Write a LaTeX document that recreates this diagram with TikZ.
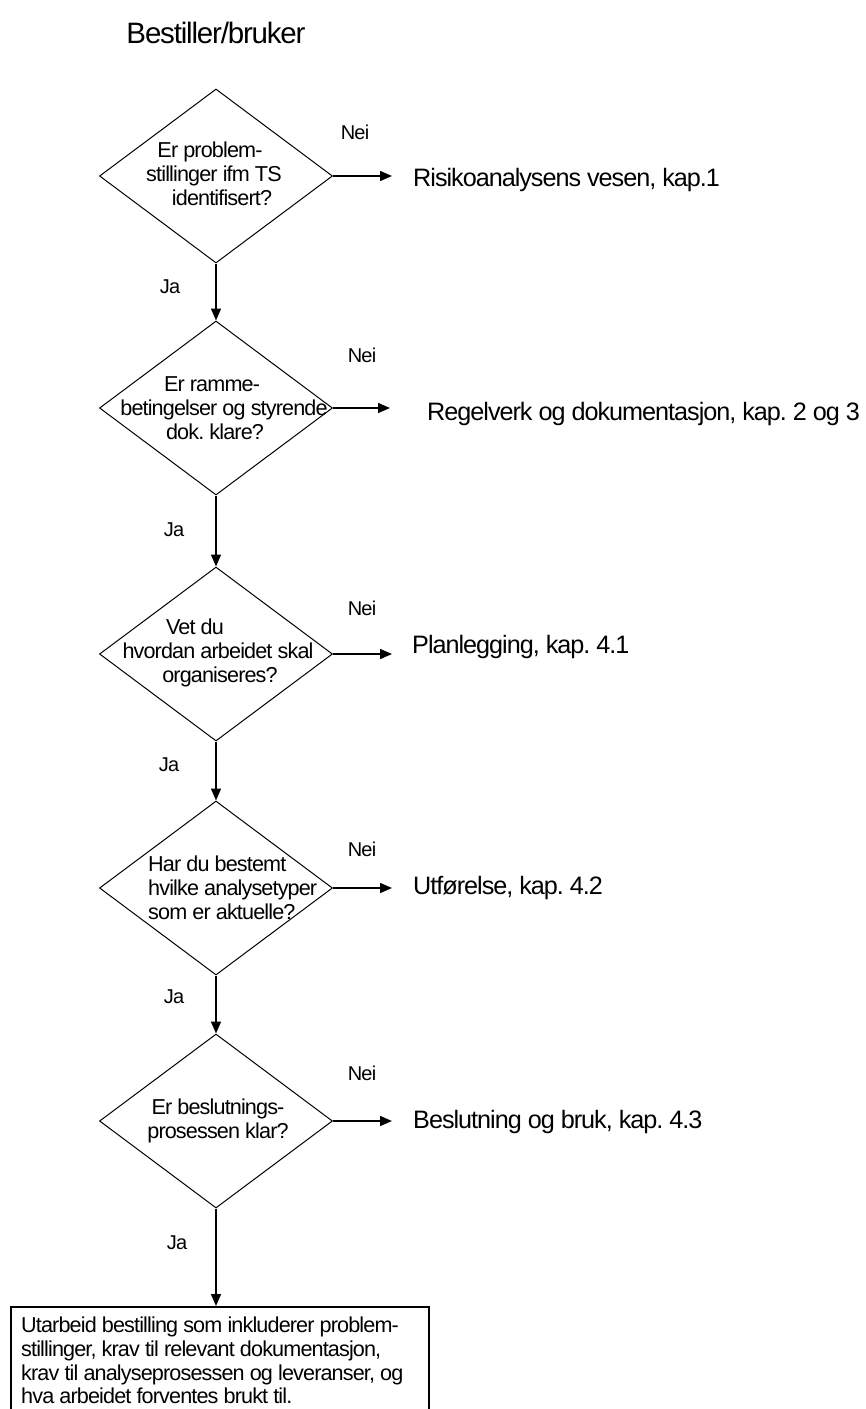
\documentclass[tikz,border=0pt]{standalone}
\usepackage{fontspec}
\setmainfont[LetterSpace=-4]{Liberation Sans}
\usetikzlibrary{shapes.geometric,arrows.meta}
\frenchspacing
\begin{document}
\begin{tikzpicture}[x=1pt,y=-1pt,
  dia/.style={draw,line width=1pt,diamond,minimum width=233pt,minimum height=174pt,inner sep=0pt},
  dtext/.style={font=\fontsize{21.6}{24}\selectfont,align=center,inner sep=0pt},
  lab/.style={font=\fontsize{20}{22}\selectfont,inner sep=0pt},
  res/.style={font=\fontsize{25.2}{28}\selectfont,anchor=west,inner sep=0pt},
  arr/.style={line width=1.5pt,-{Triangle[length=12pt,width=10pt]}}]
\useasboundingbox (0,0) rectangle (866,1409);
\clip (0,0) rectangle (866,1409);
\node[font=\fontsize{29.5}{32}\selectfont,inner sep=0pt] (title) at (216,33) {Bestiller/bruker};

\node[dia] (d1) at (216,176) {};
\node[dtext] (t1) at (214,174) {\hspace*{-8pt}Er problem-\\stillinger ifm TS\\\hspace*{16pt}identifisert?};
\node[dia] (d2) at (216,408) {};
\node[dtext] (t2) at (224,408) {\hspace*{-24pt}Er ramme-\\betingelser og styrende\\\hspace*{-18pt}dok. klare?};
\node[dia] (d3) at (216,654) {};
\node[dtext] (t3) at (218,653) {\hspace*{-46pt}Vet du\\hvordan arbeidet skal\\\hspace*{4pt}organiseres?};
\node[dia] (d4) at (216,888) {};
\node[dtext,align=left,anchor=west] (t4) at (148,888) {Har du bestemt\\hvilke analysetyper\\som er aktuelle?};
\node[dia] (d5) at (216,1121) {};
\node[dtext] (t5) at (218,1121) {Er beslutnings-\\prosessen klar?};

\node[draw,line width=1.5pt,minimum width=418pt,minimum height=130pt,anchor=north west,inner sep=0pt] (box) at (10,1306) {};
\node[font=\fontsize{21.6}{23.7}\selectfont,align=left,anchor=north west,inner sep=0pt] (boxt) at (21,1317) {Utarbeid bestilling som inkluderer problem-\\stillinger, krav til relevant dokumentasjon,\\krav til analyseprosessen og leveranser, og\\hva arbeidet forventes brukt til.};

\draw[arr] (d1.south) -- (d2.north);
\draw[arr] (d2.south) -- (d3.north);
\draw[arr] (d3.south) -- (d4.north);
\draw[arr] (d4.south) -- (d5.north);
\draw[arr] (d5.south) -- (box.north -| d5.south);

\node[lab] (j1) at (170,287) {Ja};
\node[lab] (j2) at (174,530) {Ja};
\node[lab] (j3) at (169,765) {Ja};
\node[lab] (j4) at (174,997) {Ja};
\node[lab] (j5) at (177,1243) {Ja};

\coordinate (e1) at (392,176);
\coordinate (e2) at (390,408);
\coordinate (e3) at (392,654);
\coordinate (e4) at (392,888);
\coordinate (e5) at (392,1121);
\draw[arr] (d1.east) -- (e1);
\draw[arr] (d2.east) -- (e2);
\draw[arr] (d3.east) -- (e3);
\draw[arr] (d4.east) -- (e4);
\draw[arr] (d5.east) -- (e5);

\node[lab] (n1) at (355,132) {Nei};
\node[lab] (n2) at (362,355) {Nei};
\node[lab] (n3) at (362,608) {Nei};
\node[lab] (n4) at (362,849) {Nei};
\node[lab] (n5) at (362,1073) {Nei};

\node[res] (r1) at (413,180) {Risikoanalysens vesen, kap.1};
\node[res] (r2) at (427,414) {Regelverk og dokumentasjon, kap. 2 og 3};
\node[res] (r3) at (412,647) {Planlegging, kap. 4.1};
\node[res] (r4) at (413,888) {Utførelse, kap. 4.2};
\node[res] (r5) at (413,1122) {Beslutning og bruk, kap. 4.3};
\end{tikzpicture}
\end{document}
